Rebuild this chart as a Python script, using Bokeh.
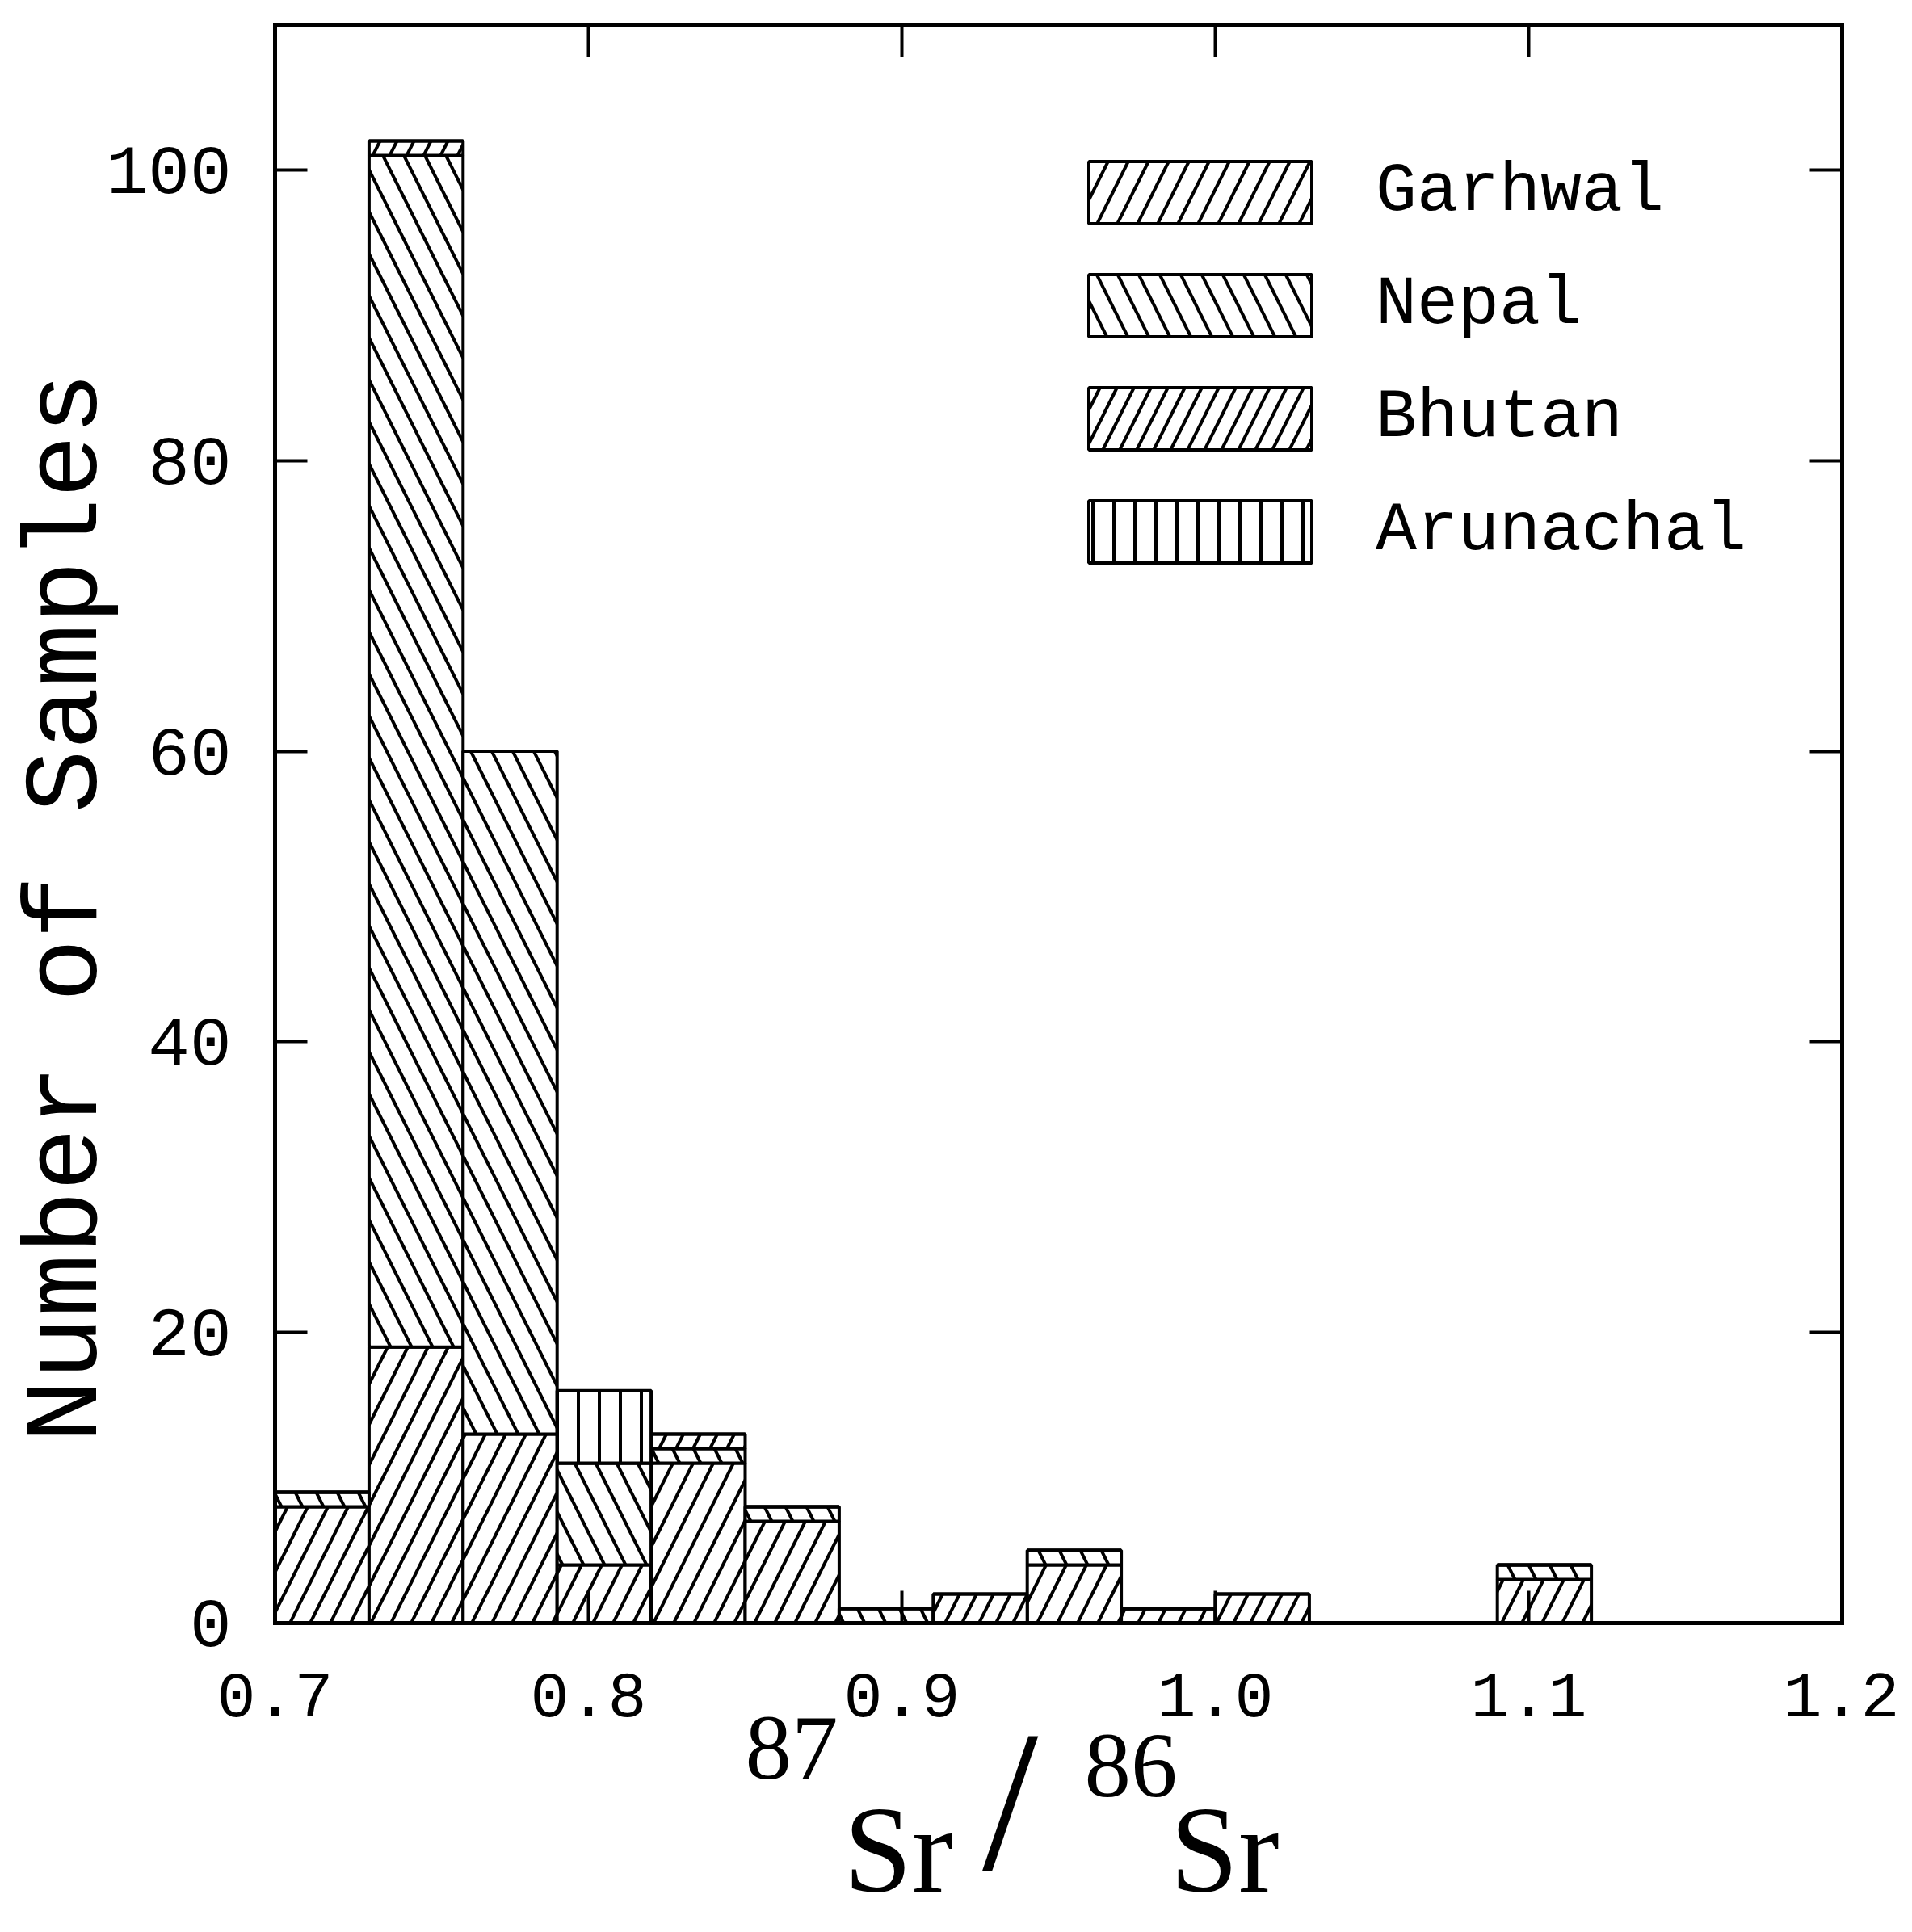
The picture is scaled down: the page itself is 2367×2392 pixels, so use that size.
import numpy as np
from bokeh.plotting import figure
from bokeh.models import (LinearAxis, FixedTicker, Range1d, Label, Legend,
                          LegendItem, ColumnDataSource)
from bokeh.embed import file_html
from bokeh.resources import INLINE

# ---------------- data ----------------
bin_left = [0.70, 0.73, 0.76, 0.79, 0.82, 0.85, 0.88, 0.91, 0.94, 0.97,
            1.00, 1.03, 1.06, 1.09]
bin_width = 0.03
garhwal   = [8, 19, 13, 4, 11, 7, 0, 0, 4, 1, 0, 0, 0, 3]
nepal     = [1, 82, 47, 7, 1, 1, 1, 0, 1, 0, 0, 0, 0, 1]
bhutan    = [0, 1, 0, 0, 1, 0, 0, 2, 0, 0, 2, 0, 0, 0]
arunachal = [0, 0, 0, 5, 0, 0, 0, 0, 0, 0, 0, 0, 0, 0]
regions = ["Garhwal", "Nepal", "Bhutan", "Arunachal"]
x_ticks = [0.7, 0.8, 0.9, 1.0, 1.1, 1.2]
y_ticks = [0, 20, 40, 60, 80, 100]
x_lo, x_hi = 0.7, 1.2
y_lo, y_hi = 0, 110

# ---------------- layout (page pixels) ----------------
W, H = 2351, 2376
FRAME_L, FRAME_R = 348, 2288      # page px of x_lo / x_hi
FRAME_T, FRAME_B = 38, 2017       # page px of y_hi / y_lo
PX_X = (FRAME_R - FRAME_L) / (x_hi - x_lo)
PX_Y = (FRAME_B - FRAME_T) / (y_hi - y_lo)
def px2x(px):
    return x_lo + (px - FRAME_L) / PX_X
def px2y(py):
    return y_lo + (FRAME_B - py) / PX_Y

xr = Range1d(px2x(8), px2x(8 + W))
yr = Range1d(px2y(8 + H), px2y(8))

src = ColumnDataSource(dict(
    x=[l + bin_width / 2 for l in bin_left],
    Garhwal=garhwal, Nepal=nepal, Bhutan=bhutan, Arunachal=arunachal))

p = figure(width=W, height=H, x_range=xr, y_range=yr, output_backend="svg",
           toolbar_location=None, x_axis_location=None,
           y_axis_location=None, min_border=0)
p.grid.visible = False
p.outline_line_color = None
p.background_fill_color = "white"
p.border_fill_color = "white"

rends = p.vbar_stack(regions, x="x", width=bin_width, source=src,
                     fill_color="white", line_color="black", line_width=4,
                     hatch_pattern=["/", "\\", "/", "|"],
                     hatch_scale=[50, 52, 42, 26],
                     hatch_weight=4, hatch_color="black")

def make_axis(loc, bounds, ticks, show_labels, standoff=0, fs="80px"):
    ax = LinearAxis(fixed_location=loc, bounds=bounds,
                    ticker=FixedTicker(ticks=ticks))
    ax.major_tick_in = 40
    ax.major_tick_out = 0
    ax.minor_tick_line_color = None
    ax.axis_line_width = 5
    ax.axis_line_cap = "square"
    ax.major_tick_line_width = 4
    ax.major_label_text_font = "Liberation Mono"
    ax.major_label_text_font_size = fs
    ax.major_label_standoff = standoff
    ax.major_label_text_color = "black" if show_labels else None
    return ax

bottom = make_axis(y_lo, (x_lo, x_hi), x_ticks, True, 62, "80px")
bottom.major_label_overrides = {t: f"{t:.1f}" for t in x_ticks}
left = make_axis(x_lo, (y_lo, y_hi), y_ticks, True, 54, "86px")
left.major_label_overrides = {t: str(t) for t in y_ticks}
top = make_axis(y_hi, (x_lo, x_hi), x_ticks, False)
right = make_axis(x_hi, (y_lo, y_hi), y_ticks, False)
p.add_layout(bottom, "below")
p.add_layout(left, "left")
p.add_layout(top, "above")
p.add_layout(right, "right")

# legend (glyph boxes drawn at 80% of the glyph area)
legend = Legend(items=[LegendItem(label=r, renderers=[rd])
                       for r, rd in zip(regions, rends)],
                location=(1313, 1670), glyph_width=345, glyph_height=96,
                spacing=43, label_standoff=45, padding=0, margin=0,
                border_line_color=None, background_fill_alpha=0,
                label_text_font="Liberation Mono", label_text_color="black",
                label_text_font_size="85px", label_height=96)
p.add_layout(legend)

# y axis title
p.add_layout(Label(x=px2x(92), y=px2y(1131), text="Number of Samples",
                   angle=np.pi / 2, text_align="center",
                   text_baseline="middle", text_font="Liberation Mono",
                   text_font_size="130px", text_color="black"))

# x axis title: 87Sr / 86Sr
serif = "Liberation Serif"
parts = [("87", 930, 2172, "115px", "left"),
         ("Sr", 1052, 2298, "152px", "left"),
         ("/", 1258, 2238, "250px", "center"),
         ("86", 1350, 2194, "115px", "left"),
         ("Sr", 1456, 2298, "152px", "left")]
for txt, px, py, fs, al in parts:
    p.add_layout(Label(x=px2x(px), y=px2y(py), text=txt, text_align=al,
                       text_baseline="alphabetic", text_font=serif,
                       text_font_size=fs, text_color="black"))

open("out.html", "w").write(file_html(p, INLINE))
